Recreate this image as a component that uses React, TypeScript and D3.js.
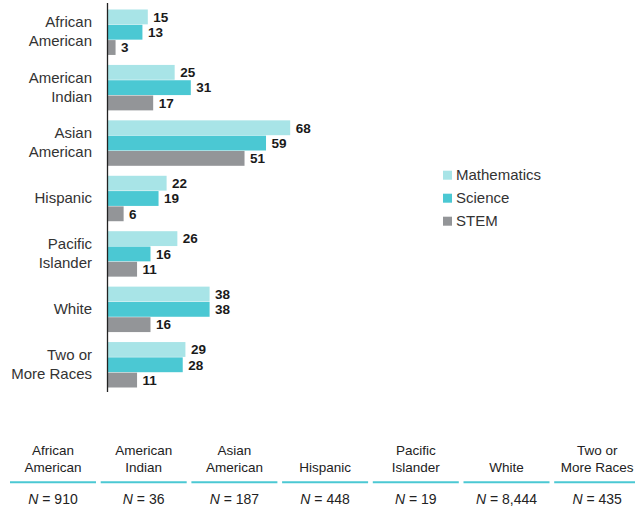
import React from "react";
import * as d3 from "d3";

const categories = [
  "African American",
  "American Indian",
  "Asian American",
  "Hispanic",
  "Pacific Islander",
  "White",
  "Two or More Races",
];
const categoryLines = [
  ["African", "American"],
  ["American", "Indian"],
  ["Asian", "American"],
  ["Hispanic"],
  ["Pacific", "Islander"],
  ["White"],
  ["Two or", "More Races"],
];
const seriesNames = ["Mathematics", "Science", "STEM"];
const mathValues = [15, 25, 68, 22, 26, 38, 29];
const scienceValues = [13, 31, 59, 19, 16, 38, 28];
const stemValues = [3, 17, 51, 6, 11, 16, 11];
const sampleSizes = ["910", "36", "187", "448", "19", "8,444", "435"];
const colors = ["#a8e4e7", "#4bc8d3", "#939598"];

const W = 635;
const H = 510;
const FONT = "'Liberation Sans', Arial, Helvetica, sans-serif";

export default function App() {
  const axisX = 107.5;
  const x = d3.scaleLinear().domain([0, 68]).range([axisX, 290.2]);
  const y = d3
    .scaleBand<string>()
    .domain(categories)
    .range([9.5, 387.5])
    .paddingInner(0.18)
    .paddingOuter(0);
  const inner = d3
    .scaleBand<string>()
    .domain(seriesNames)
    .range([0, y.bandwidth()])
    .paddingInner(0.03);
  const seriesValues = [mathValues, scienceValues, stemValues];

  const colX = d3
    .scaleBand<string>()
    .domain(categories)
    .range([10, 10 + 7 * 90.7 - 4.7])
    .paddingInner(4.7 / 90.7)
    .paddingOuter(0);

  return (
    <svg
      width={W}
      height={H}
      style={{ position: "absolute", left: 0, top: 0, background: "#fff" }}
      fontFamily={FONT}
    >
      {categories.map((c, i) => {
        const g0 = y(c)!;
        const center = g0 + y.bandwidth() / 2;
        const lines = categoryLines[i];
        return (
          <g key={c}>
            {lines.map((ln, k) => (
              <text
                key={k}
                x={92}
                y={center + 4.5 + (k - (lines.length - 1) / 2) * 19}
                textAnchor="end"
                fontSize={15}
                fill="#333"
              >
                {ln}
              </text>
            ))}
            {seriesNames.map((s, j) => {
              const v = seriesValues[j][i];
              const by = g0 + inner(s)!;
              const bh = inner.bandwidth();
              return (
                <g key={s}>
                  <rect
                    x={axisX}
                    y={by}
                    width={x(v) - axisX}
                    height={bh}
                    fill={colors[j]}
                  />
                  <text
                    x={x(v) + 5.5}
                    y={by + bh / 2 + 4.8}
                    fontSize={13.5}
                    fontWeight="bold"
                    fill="#1a1a1a"
                  >
                    {v}
                  </text>
                </g>
              );
            })}
          </g>
        );
      })}
      <line x1={axisX} x2={axisX} y1={3} y2={392} stroke="#222" strokeWidth={1.3} />

      {seriesNames.map((s, j) => (
        <g key={s} transform={`translate(443, ${170.7 + j * 23})`}>
          <rect x={0} y={0} width={9} height={9} fill={colors[j]} />
          <text x={13} y={9.5} fontSize={15} fill="#333">
            {s}
          </text>
        </g>
      ))}

      {categories.map((c, i) => {
        const x0 = colX(c)!;
        const cx = x0 + colX.bandwidth() / 2;
        const lines = categoryLines[i];
        return (
          <g key={"t" + c}>
            {lines.map((ln, k) => (
              <text
                key={k}
                x={cx}
                y={472 - (lines.length - 1 - k) * 17.5}
                textAnchor="middle"
                fontSize={13.5}
                fill="#222"
              >
                {ln}
              </text>
            ))}
            <line
              x1={x0}
              x2={x0 + colX.bandwidth()}
              y1={482.3}
              y2={482.3}
              stroke="#4bc8d3"
              strokeWidth={2}
            />
            <text x={cx} y={504} textAnchor="middle" fontSize={14} fill="#222">
              <tspan fontStyle="italic">N</tspan>
              {" = " + sampleSizes[i]}
            </text>
          </g>
        );
      })}
    </svg>
  );
}
